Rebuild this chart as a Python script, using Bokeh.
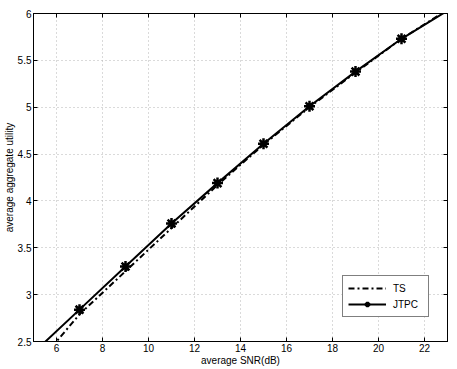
from bokeh.plotting import figure
from bokeh.models import Range1d, LinearAxis, FixedTicker, Legend, LegendItem, CustomJSTickFormatter
from bokeh.embed import file_html
from bokeh.resources import INLINE

snr = [5, 7, 9, 11, 13, 15, 17, 19, 21, 23]
ts = [2.21, 2.79, 3.25, 3.71, 4.17, 4.60, 5.00, 5.37, 5.73, 6.04]
jtpc = [2.38, 2.84, 3.30, 3.76, 4.19, 4.61, 5.01, 5.38, 5.73, 6.03]
x_ticks = [6, 8, 10, 12, 14, 16, 18, 20, 22]
y_ticks = [2.5, 3, 3.5, 4, 4.5, 5, 5.5, 6]

FONT = "Liberation Sans"

p = figure(frame_width=414, frame_height=328, output_backend="svg", toolbar_location=None,
           x_range=Range1d(5, 23), y_range=Range1d(2.5, 6),
           min_border_left=30, min_border_right=6, min_border_top=13, min_border_bottom=24)

p.background_fill_color = "white"
p.outline_line_color = "black"
p.outline_line_width = 1

for ax in p.axis:
    ax.major_tick_in = 4
    ax.major_tick_out = 0
    ax.minor_tick_line_color = None
    ax.axis_line_color = "black"
    ax.major_tick_line_color = "black"
    ax.major_label_text_font = FONT
    ax.major_label_text_font_size = "10px"
    ax.major_label_text_color = "black"
    ax.axis_label_text_font = FONT
    ax.axis_label_text_font_size = "10px"
    ax.axis_label_text_font_style = "normal"
    ax.axis_label_text_color = "black"
    ax.major_label_standoff = 2
    ax.axis_label_standoff = 0

p.xaxis.ticker = FixedTicker(ticks=x_ticks)
p.yaxis.ticker = FixedTicker(ticks=y_ticks)
p.yaxis.major_label_overrides = {2.5: "2.5", 3: "3", 3.5: "3.5", 4: "4", 4.5: "4.5", 5: "5", 5.5: "5.5", 6: "6"}
p.xaxis.axis_label = "average SNR(dB)"
p.yaxis.axis_label = "average aggregate utility"

blank = CustomJSTickFormatter(code="return ''")
top = LinearAxis(ticker=FixedTicker(ticks=x_ticks), formatter=blank,
                 major_tick_in=4, major_tick_out=0, minor_tick_line_color=None,
                 axis_line_color="black", major_label_standoff=0)
right = LinearAxis(ticker=FixedTicker(ticks=y_ticks), formatter=blank,
                   major_tick_in=4, major_tick_out=0, minor_tick_line_color=None,
                   axis_line_color="black", major_label_standoff=0)
p.add_layout(top, "above")
p.add_layout(right, "right")

for g in (p.xgrid, p.ygrid):
    g.grid_line_color = "#b4b4b4"
    g.grid_line_dash = "1 3"
    g.grid_line_width = 1
p.xgrid.ticker = FixedTicker(ticks=x_ticks)
p.ygrid.ticker = FixedTicker(ticks=y_ticks)

r_ts = p.line(snr, ts, line_color="black", line_width=2, line_dash="6 3 2 3")
r_j = p.line(snr, jtpc, line_color="black", line_width=2)
r_jm = p.scatter(snr[1:-1], jtpc[1:-1], marker="asterisk", size=11, line_color="black", line_width=2.5)

legend = Legend(items=[LegendItem(label="TS", renderers=[r_ts]),
                       LegendItem(label="JTPC", renderers=[r_j, r_jm])],
                location=(309, 24), label_text_font=FONT, label_text_font_size="10px",
                label_text_color="black",
                glyph_width=38, glyph_height=14, label_standoff=7, label_width=30,
                spacing=2, padding=5, margin=0, border_line_color="black", border_line_width=1,
                background_fill_alpha=1)
p.add_layout(legend, "center")

open("out.html", "w").write(file_html(p, INLINE))
